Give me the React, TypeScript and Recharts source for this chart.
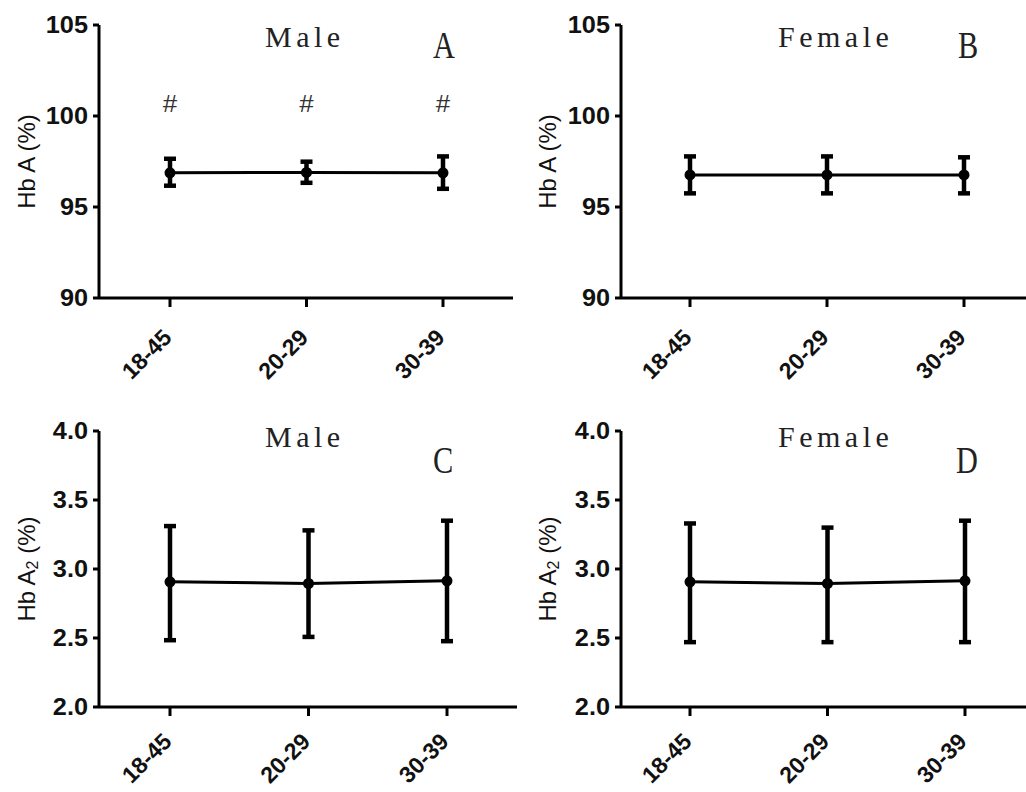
import React from 'react';
import { ComposedChart, Line, XAxis, YAxis, ErrorBar, LabelList, Label } from 'recharts';

const categories = ['18-45', '20-29', '30-39'];

const maleHbAMean = [96.88, 96.9, 96.88];
const maleHbALower = [96.17, 96.33, 96.0];
const maleHbAUpper = [97.65, 97.49, 97.78];
const maleHbAHash = [100.6, 100.6, 100.6];

const femaleHbAMean = [96.76, 96.76, 96.76];
const femaleHbALower = [95.75, 95.75, 95.75];
const femaleHbAUpper = [97.78, 97.78, 97.73];

const maleHbA2Mean = [2.907, 2.895, 2.914];
const maleHbA2Lower = [2.484, 2.508, 2.477];
const maleHbA2Upper = [3.311, 3.28, 3.35];

const femaleHbA2Mean = [2.907, 2.895, 2.914];
const femaleHbA2Lower = [2.47, 2.47, 2.47];
const femaleHbA2Upper = [3.33, 3.3, 3.35];

const hbATicks = [90, 95, 100, 105];
const hbA2Ticks = [2.0, 2.5, 3.0, 3.5, 4.0];

type Row = { cat: string; mean: number; err: [number, number]; hash?: number };

const build = (mean: number[], lower: number[], upper: number[], hash?: number[]): Row[] =>
  categories.map((cat, i) => ({
    cat,
    mean: mean[i],
    err: [mean[i] - lower[i], upper[i] - mean[i]],
    ...(hash ? { hash: hash[i] } : {}),
  }));

const makeXTick = (dy: number) => (props: any) => {
  const { x, y, payload } = props;
  return (
    <g transform={`translate(${x + 3},${y + dy})`}>
      <text
        transform="rotate(-45)"
        textAnchor="end"
        fontFamily="'Liberation Sans', Arial, sans-serif"
        fontWeight="bold"
        fontSize={23}
        fill="#111"
      >
        {payload.value}
      </text>
    </g>
  );
};

const makeYTick = (decimals: number) => (props: any) => {
  const { x, y, payload } = props;
  return (
    <g transform={`translate(${x},${y}) scale(1.1,1)`}>
      <text
        x={0}
        y={0}
        dy="0.36em"
        textAnchor="end"
        fontFamily="'Liberation Sans', Arial, sans-serif"
        fontWeight="bold"
        fontSize={23}
        fill="#111"
      >
        {Number(payload.value).toFixed(decimals)}
      </text>
    </g>
  );
};

const YLabel = (sub: boolean) => (props: any) => {
  const vb = props.viewBox || {};
  const cx = (vb.x || 0) + 26;
  const cy = (vb.y || 0) + (vb.height || 0) / 2;
  return (
    <text
      transform={`translate(${cx},${cy}) rotate(-90)`}
      textAnchor="middle"
      dominantBaseline="central"
      fontFamily="'Liberation Sans', Arial, sans-serif"
      fontSize={24}
      fill="#111"
    >
      {sub ? (
        <>
          <tspan>Hb A</tspan>
          <tspan dy={6} fontSize={16}>2</tspan>
          <tspan dy={-6}> (%)</tspan>
        </>
      ) : (
        'Hb A (%)'
      )}
    </text>
  );
};

const HashLabel = (props: any) => {
  const { x, y } = props;
  return (
    <text
      x={x}
      y={y}
      textAnchor="middle"
      dominantBaseline="central"
      fontFamily="'Liberation Mono', monospace"
      fontSize={26}
      fill="#333"
    >
      #
    </text>
  );
};

type PanelProps = {
  left: number;
  top: number;
  width: number;
  height: number;
  marginTop: number;
  marginBottom: number;
  yWidth: number;
  padL: number;
  padR: number;
  domain: [number, number];
  ticks: number[];
  decimals: number;
  data: Row[];
  sub: boolean;
  title: string;
  titleX: number;
  letter: string;
  letterX: number;
  letterY: number;
  xLabelDy: number;
  showHash?: boolean;
};

const Panel = (p: PanelProps) => (
  <div style={{ position: 'absolute', left: p.left, top: p.top, width: p.width, height: p.height }}>
    <ComposedChart
      width={p.width}
      height={p.height}
      data={p.data}
      margin={{ top: p.marginTop, right: 0, bottom: p.marginBottom, left: 0 }}
    >
      <XAxis
        dataKey="cat"
        type="category"
        allowDuplicatedCategory={false}
        padding={{ left: p.padL, right: p.padR }}
        height={60}
        tickSize={9}
        tickMargin={0}
        axisLine={{ stroke: '#000', strokeWidth: 3 }}
        tickLine={{ stroke: '#000', strokeWidth: 3 }}
        tick={makeXTick(p.xLabelDy)}
        interval={0}
      />
      <YAxis
        type="number"
        domain={p.domain}
        ticks={p.ticks}
        width={p.yWidth}
        tickSize={6}
        tickMargin={5}
        axisLine={{ stroke: '#000', strokeWidth: 3 }}
        tickLine={{ stroke: '#000', strokeWidth: 3 }}
        tick={makeYTick(p.decimals)}
        interval={0}
        allowDataOverflow
      >
        <Label content={YLabel(p.sub)} />
      </YAxis>
      <Line
        dataKey="mean"
        stroke="#000"
        strokeWidth={3}
        dot={{ r: 5.5, fill: '#000', stroke: '#000', strokeWidth: 0 }}
        activeDot={false}
        isAnimationActive={false}
      >
        <ErrorBar dataKey="err" width={6} strokeWidth={4.5} stroke="#000" direction="y" />
      </Line>
      {p.showHash && (
        <Line
          dataKey="hash"
          stroke="none"
          dot={false}
          activeDot={false}
          isAnimationActive={false}
        >
          <LabelList dataKey="hash" content={HashLabel} />
        </Line>
      )}
    </ComposedChart>
    <svg
      width={p.width}
      height={p.height}
      style={{ position: 'absolute', left: 0, top: 0, pointerEvents: 'none' }}
    >
      <text
        x={p.titleX}
        y={47}
        fontFamily="'Liberation Serif', 'Times New Roman', serif"
        fontSize={30}
        letterSpacing={4.5}
        fill="#222"
      >
        {p.title}
      </text>
      <text
        transform={`translate(${p.letterX},${p.letterY}) scale(0.82,1)`}
        textAnchor="middle"
        fontFamily="'Liberation Serif', 'Times New Roman', serif"
        fontSize={37}
        fill="#222"
      >
        {p.letter}
      </text>
    </svg>
  </div>
);

export default function App() {
  const dA = build(maleHbAMean, maleHbALower, maleHbAUpper, maleHbAHash);
  const dB = build(femaleHbAMean, femaleHbALower, femaleHbAUpper);
  const dC = build(maleHbA2Mean, maleHbA2Lower, maleHbA2Upper);
  const dD = build(femaleHbA2Mean, femaleHbA2Lower, femaleHbA2Upper);
  return (
    <div style={{ position: 'absolute', left: 0, top: 0, width: 1026, height: 792, background: '#fff', overflow: 'hidden' }}>
      <Panel
        left={0} top={0} width={513} height={400}
        marginTop={25} marginBottom={42} yWidth={99} padL={71} padR={70}
        domain={[90, 105]} ticks={hbATicks} decimals={0} data={dA} sub={false}
        title="Male" titleX={265} letter="A" letterX={444} letterY={58} xLabelDy={32} showHash
      />
      <Panel
        left={521} top={0} width={505} height={400}
        marginTop={25} marginBottom={42} yWidth={100} padL={69} padR={62}
        domain={[90, 105]} ticks={hbATicks} decimals={0} data={dB} sub={false}
        title="Female" titleX={257} letter="B" letterX={447} letterY={58} xLabelDy={32}
      />
      <Panel
        left={0} top={400} width={517} height={392}
        marginTop={31} marginBottom={25} yWidth={99} padL={71} padR={70}
        domain={[2, 4]} ticks={hbA2Ticks} decimals={1} data={dC} sub
        title="Male" titleX={265} letter="C" letterX={443} letterY={73} xLabelDy={27}
      />
      <Panel
        left={521} top={400} width={505} height={392}
        marginTop={31} marginBottom={25} yWidth={100} padL={69} padR={61}
        domain={[2, 4]} ticks={hbA2Ticks} decimals={1} data={dD} sub
        title="Female" titleX={257} letter="D" letterX={446} letterY={73} xLabelDy={27}
      />
    </div>
  );
}
